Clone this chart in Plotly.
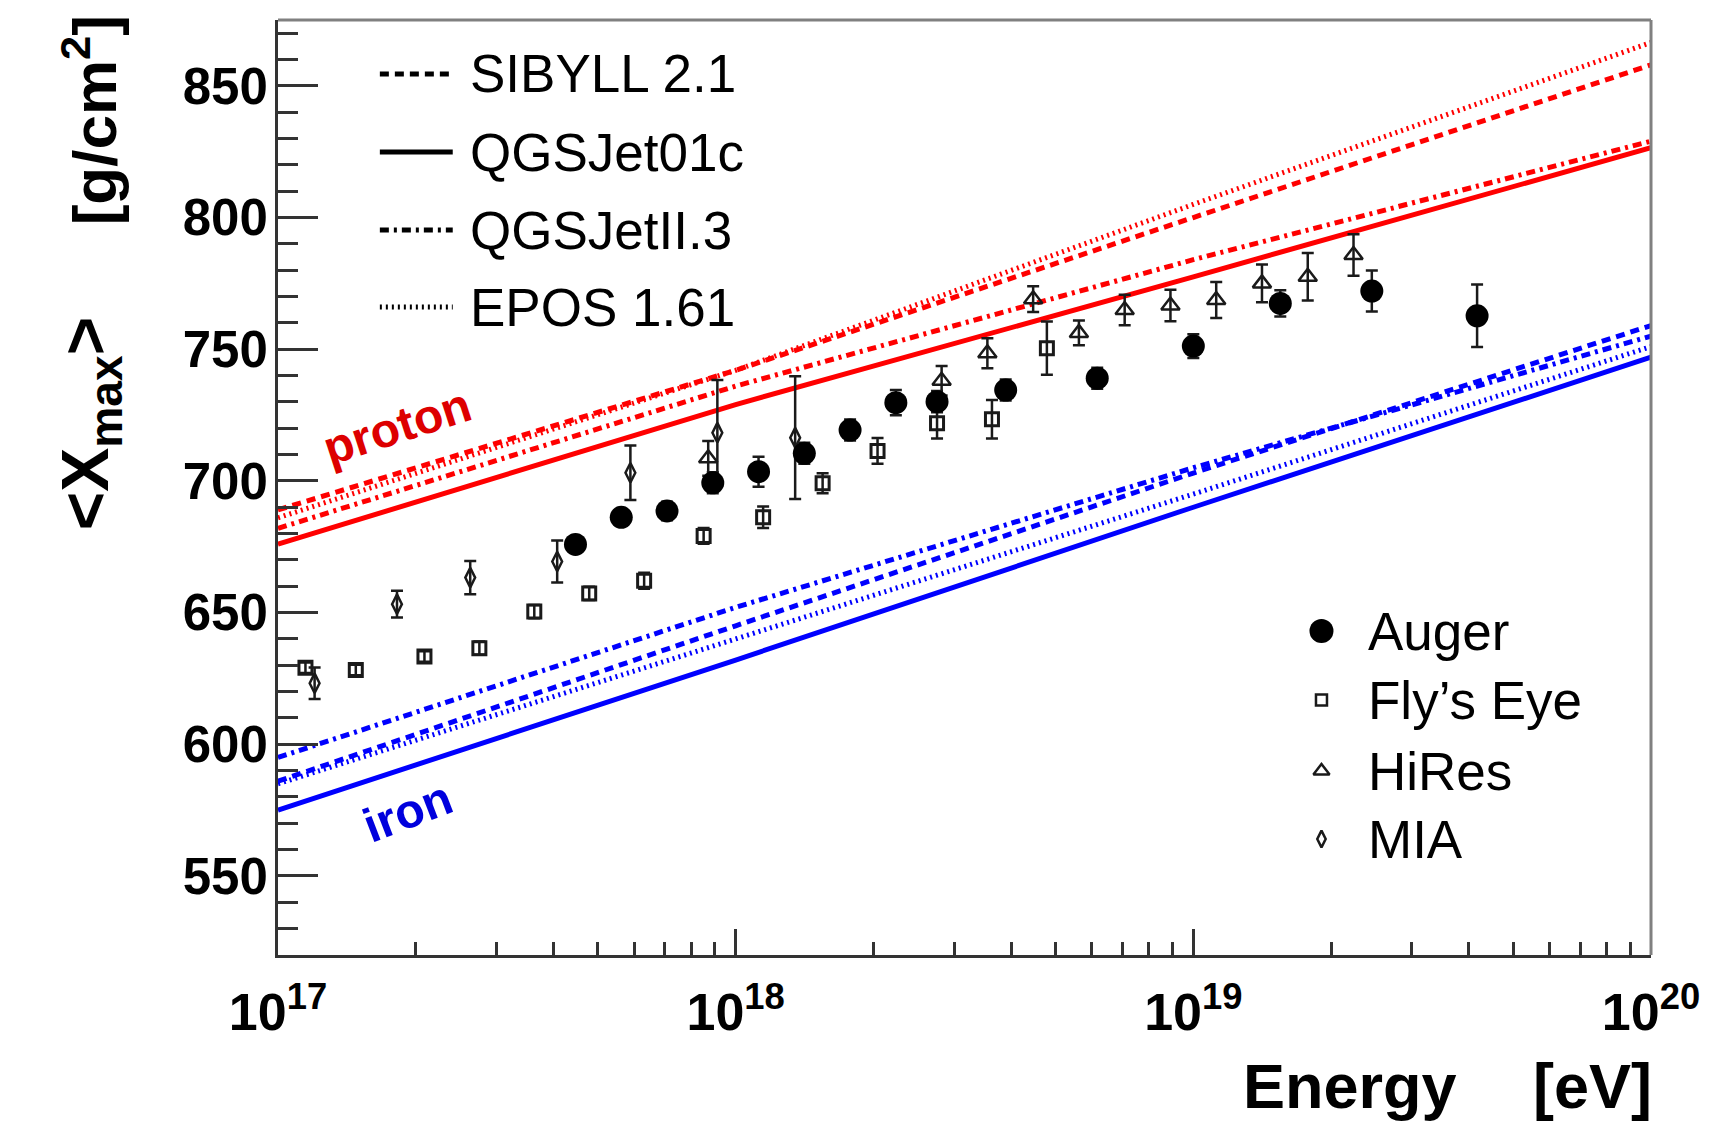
import plotly.graph_objects as go

# ---------------------------------------------------------------- data
# air-shower model predictions of <Xmax> vs log10(E/eV)
model_lg = [17.0, 18.0, 19.0, 20.0]
sibyll_p = [689.0, 742.0, 800.0, 858.0]
qgsjet01_p = [676.0, 729.0, 777.5, 826.5]
qgsjetII_p = [682.0, 736.0, 784.0, 829.0]
epos_p = [686.0, 742.0, 805.0, 866.5]
sibyll_fe = [586.0, 645.0, 703.0, 759.0]
qgsjet01_fe = [575.0, 632.0, 690.0, 747.0]
qgsjetII_fe = [595.0, 652.0, 705.0, 755.0]
epos_fe = [585.0, 640.0, 695.0, 751.0]

# measurements: log10(E/eV), <Xmax> [g/cm^2], uncertainty
auger_lg = [17.65, 17.75, 17.85, 17.95, 18.05, 18.15, 18.25, 18.35, 18.44, 18.59,
            18.79, 19.00, 19.19, 19.39, 19.62]
auger_x = [675.9, 686.2, 688.6, 699.3, 703.5, 710.5, 719.3, 729.7, 730.1, 734.5,
           739.0, 751.2, 767.4, 772.1, 762.7]
auger_err = [3.0, 3.0, 3.5, 4.0, 5.7, 4.0, 4.0, 4.8, 4.0, 4.0, 4.0, 4.5, 5.0, 7.8, 11.9]

flyseye_lg = [17.06, 17.17, 17.32, 17.44, 17.56, 17.68, 17.80, 17.93, 18.06, 18.19,
              18.31, 18.44, 18.56, 18.68]
flyseye_x = [629.1, 628.2, 633.3, 636.5, 650.4, 657.3, 662.1, 679.1, 686.2, 699.1,
             711.4, 721.9, 723.4, 750.4]
flyseye_err = [2.0, 2.0, 2.0, 2.5, 2.5, 2.5, 3.0, 3.0, 4.1, 3.8, 4.9, 5.8, 7.3, 10.1]

hires_lg = [17.94, 18.45, 18.55, 18.65, 18.75, 18.85, 18.95, 19.05, 19.15, 19.25, 19.35]
hires_x = [708.6, 738.0, 748.5, 769.0, 756.2, 764.9, 766.6, 768.7, 775.0, 777.5, 785.8]
hires_err = [6.6, 5.6, 5.7, 4.9, 4.7, 5.8, 6.0, 6.8, 7.2, 9.0, 7.9]

mia_lg = [17.08, 17.26, 17.42, 17.61, 17.77, 17.96, 18.13]
mia_x = [623.2, 653.2, 663.3, 669.4, 703.1, 718.3, 716.4]
mia_err = [6.0, 5.1, 6.3, 8.0, 10.3, 20.0, 23.3]

y_ticks = [550, 600, 650, 700, 750, 800, 850]
x_decades = [17, 18, 19, 20]
model_names = ["SIBYLL 2.1", "QGSJet01c", "QGSJetII.3", "EPOS 1.61"]
experiment_names = ["Auger", "Fly’s Eye", "HiRes", "MIA"]

# ---------------------------------------------------------------- layout helpers
W, H = 1712, 1124
ML, MR, MT, MB = 278, 59, 20, 169
FONT = "Liberation Sans, Arial, Helvetica, sans-serif"
RED, BLUE = "#ff0000", "#0000ff"
INK = "#1a1a1a"
LW = 5


def fx(px):
    """pixel column -> paper x"""
    return (px - ML) / (W - ML - MR)


def fy(py):
    """pixel row -> paper y"""
    return (H - MB - py) / (H - MT - MB)


def energy(lgs):
    return [10.0 ** v for v in lgs]


DASHES = {
    "SIBYLL 2.1": "9px,6px",
    "QGSJet01c": "solid",
    "QGSJetII.3": "9px,5px,3px,5px",
    "EPOS 1.61": "2px,4px",
}

fig = go.Figure()

# ---------------------------------------------------------------- model bands
models = [
    ("SIBYLL 2.1", sibyll_p, sibyll_fe),
    ("QGSJet01c", qgsjet01_p, qgsjet01_fe),
    ("QGSJetII.3", qgsjetII_p, qgsjetII_fe),
    ("EPOS 1.61", epos_p, epos_fe),
]
for name, prot, iron in models:
    for vals, col in ((prot, RED), (iron, BLUE)):
        fig.add_trace(go.Scatter(
            x=energy(model_lg), y=vals, mode="lines",
            line=dict(color=col, width=LW, dash=DASHES[name]),
            hoverinfo="skip", showlegend=False))

# ---------------------------------------------------------------- measurements
def err_bars(arr):
    return dict(type="data", array=arr, visible=True, color=INK, thickness=2.5, width=6)


fig.add_trace(go.Scatter(
    x=energy(flyseye_lg), y=flyseye_x, mode="markers", name="Fly’s Eye",
    marker=dict(symbol="square-open", size=13, color=INK, line=dict(width=3, color=INK)),
    error_y=err_bars(flyseye_err), showlegend=False))
fig.add_trace(go.Scatter(
    x=energy(mia_lg), y=mia_x, mode="markers", name="MIA",
    marker=dict(symbol="diamond-tall-open", size=14, color=INK, line=dict(width=2.5, color=INK)),
    error_y=err_bars(mia_err), showlegend=False))
fig.add_trace(go.Scatter(
    x=energy(hires_lg), y=hires_x, mode="markers", name="HiRes",
    marker=dict(symbol="triangle-up-open", size=16, color=INK, line=dict(width=2.5, color=INK)),
    error_y=err_bars(hires_err), showlegend=False))
fig.add_trace(go.Scatter(
    x=energy(auger_lg), y=auger_x, mode="markers", name="Auger",
    marker=dict(symbol="circle", size=23, color="black"),
    error_y=err_bars(auger_err), showlegend=False))

# ---------------------------------------------------------------- keys
# model key: black line samples with labels
key_rows = [74, 152, 230, 307]
for name, row in zip(model_names, key_rows):
    fig.add_shape(type="line", xref="paper", yref="paper",
                  x0=fx(380), x1=fx(453), y0=fy(row), y1=fy(row),
                  line=dict(color="black", width=LW, dash=DASHES[name]))
    fig.add_annotation(x=fx(468), y=fy(row), xref="paper", yref="paper",
                       text=name, showarrow=False, xanchor="left", yanchor="middle",
                       font=dict(family=FONT, size=53, color="black"))

# experiment key: marker glyphs on an overlay axis in paper units
exp_rows = [631, 700, 771, 839]
exp_symbols = [
    dict(symbol="circle", size=24, color="black"),
    dict(symbol="square-open", size=11, color=INK, line=dict(width=2.5, color=INK)),
    dict(symbol="triangle-up-open", size=14, color=INK, line=dict(width=2.5, color=INK)),
    dict(symbol="diamond-tall-open", size=12, color=INK, line=dict(width=2.5, color=INK)),
]
for name, row, sym in zip(experiment_names, exp_rows, exp_symbols):
    fig.add_trace(go.Scatter(x=[fx(1323)], y=[fy(row)], xaxis="x2", yaxis="y2",
                             mode="markers", marker=sym, cliponaxis=False,
                             hoverinfo="skip", showlegend=False))
    fig.add_annotation(x=fx(1368), y=fy(row), xref="paper", yref="paper",
                       text=name, showarrow=False, xanchor="left", yanchor="middle",
                       font=dict(family=FONT, size=53, color="black"))

# ---------------------------------------------------------------- band labels
fig.add_annotation(x=fx(397), y=fy(426), xref="paper", yref="paper", text="proton",
                   showarrow=False, textangle=-18, xanchor="center", yanchor="middle",
                   font=dict(family=FONT, size=48, color="#dd0000", weight="bold"))
fig.add_annotation(x=fx(408), y=fy(811), xref="paper", yref="paper", text="iron",
                   showarrow=False, textangle=-21, xanchor="center", yanchor="middle",
                   font=dict(family=FONT, size=48, color="#0000dd", weight="bold"))

# ---------------------------------------------------------------- axis titles
fig.add_annotation(x=fx(90), y=fy(120), xref="paper", yref="paper",
                   text="[g/cm<sup>2</sup>]", showarrow=False, textangle=-90,
                   xanchor="center", yanchor="middle",
                   font=dict(family=FONT, size=62, color="black", weight="bold"))
fig.add_annotation(x=fx(90), y=fy(423), xref="paper", yref="paper",
                   text="&lt;X<sub>max</sub>&gt;", showarrow=False, textangle=-90,
                   xanchor="center", yanchor="middle",
                   font=dict(family=FONT, size=66, color="black", weight="bold"))
fig.add_annotation(x=fx(1461), y=fy(1086), xref="paper", yref="paper",
                   text="Energy", showarrow=False, xanchor="right", yanchor="middle",
                   font=dict(family=FONT, size=63, color="black", weight="bold"))
fig.add_annotation(x=fx(1656), y=fy(1086), xref="paper", yref="paper",
                   text="[eV]", showarrow=False, xanchor="right", yanchor="middle",
                   font=dict(family=FONT, size=63, color="black", weight="bold"))

# ---------------------------------------------------------------- frame (top / right)
fig.add_shape(type="line", xref="paper", yref="paper", x0=0, x1=1, y0=1, y1=1,
              line=dict(color="#808080", width=3))
fig.add_shape(type="line", xref="paper", yref="paper", x0=1, x1=1, y0=0, y1=1,
              line=dict(color="#808080", width=3))

minor_x = [k * 10.0 ** d for d in x_decades[:-1] for k in range(2, 10)]

fig.update_layout(
    width=W, height=H,
    margin=dict(l=ML, r=MR, t=MT, b=MB, pad=0),
    paper_bgcolor="white", plot_bgcolor="white",
    font=dict(family=FONT, color="black"),
    xaxis=dict(
        type="log", range=[17, 20], showgrid=False, zeroline=False,
        showline=True, linecolor="#333333", linewidth=3,
        tickmode="array", tickvals=[10.0 ** d for d in x_decades],
        ticktext=[f"10<sup>{d}</sup>" for d in x_decades],
        ticks="inside", ticklen=26, tickwidth=3, tickcolor="#333333",
        tickfont=dict(family=FONT, size=52, color="black", weight="bold"),
        ticklabelstandoff=10,
        minor=dict(tickmode="array", tickvals=minor_x, ticks="inside",
                   ticklen=13, tickwidth=3, tickcolor="#333333"),
    ),
    yaxis=dict(
        range=[520, 875], showgrid=False, zeroline=False,
        showline=True, linecolor="#333333", linewidth=3,
        tickmode="array", tickvals=y_ticks,
        ticks="inside", ticklen=40, tickwidth=3, tickcolor="#333333",
        tickfont=dict(family=FONT, size=51, color="black", weight="bold"),
        ticklabelstandoff=-3,
        minor=dict(dtick=10, tick0=0, ticks="inside", ticklen=20,
                   tickwidth=3, tickcolor="#333333"),
    ),
    xaxis2=dict(overlaying="x", range=[0, 1], visible=False, fixedrange=True),
    yaxis2=dict(overlaying="y", range=[0, 1], visible=False, fixedrange=True),
)

fig.write_html("out.html")
